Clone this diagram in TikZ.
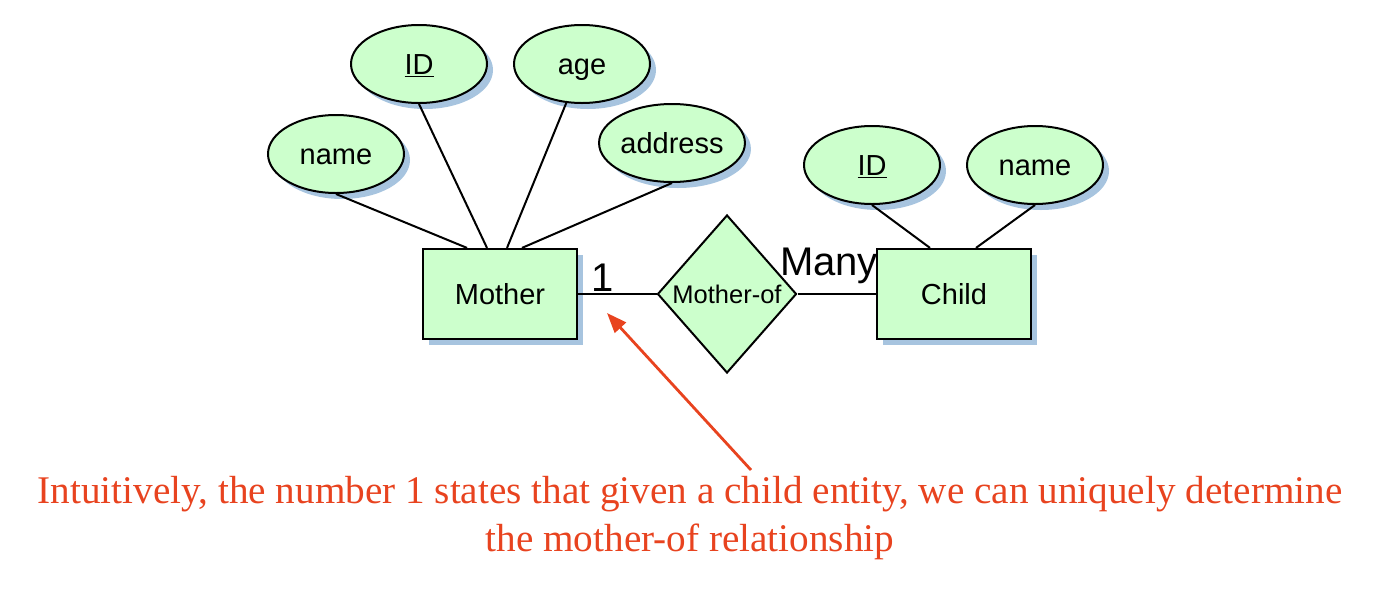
\documentclass[tikz,border=0pt]{standalone}
\usepackage{fontspec}
\setmainfont{Liberation Sans}
\newfontfamily\serifnote{Liberation Serif}
\usetikzlibrary{shapes.geometric,shadows,arrows.meta}
\definecolor{erfill}{HTML}{CCFFCC}
\definecolor{shadowblue}{HTML}{9DBEDC}
\definecolor{notered}{HTML}{E8431F}
\tikzset{
  shd/.style={drop shadow={shadow xshift=6pt,shadow yshift=-6pt,fill=shadowblue,opacity=0.9}},
  attr/.style={ellipse,draw=black,line width=2pt,fill=erfill,shd,minimum width=136pt,minimum height=78pt,inner sep=0pt,text height=21pt,text depth=0pt,font=\fontsize{29}{34}\selectfont},
  entity/.style={rectangle,draw=black,line width=2.2pt,fill=erfill,shd,minimum width=154pt,minimum height=90pt,inner sep=0pt,text height=21pt,text depth=0pt,font=\fontsize{29}{34}\selectfont},
  rel/.style={diamond,draw=black,line width=2pt,fill=erfill,minimum width=139pt,minimum height=158pt,inner sep=0pt,font=\fontsize{25.5}{30}\selectfont},
  conn/.style={draw=black,line width=2pt},
  card/.style={anchor=base,inner sep=0pt,font=\fontsize{40}{46}\selectfont},
  noteline/.style={draw=notered,line width=2.8pt,-{Triangle[length=20pt,width=15pt]}},
  note/.style={text=notered,align=center,inner sep=0pt,font=\serifnote\fontsize{39.2}{48}\selectfont}
}
\begin{document}
\begin{tikzpicture}[x=1pt,y=-1pt]
\useasboundingbox (0,0) rectangle (1400,590);
% entities and relationship
\node[entity] (mother) at (500,294) {Mother};
\node[entity] (child) at (954,294) {Child};
\node[rel] (rel) at (727,294) {Mother-of};
% attributes
\node[attr] (mname) at (336,154) {name};
\node[attr] (mid) at (419,64) {\underline{ID}};
\node[attr] (mage) at (582,64) {age};
\node[attr] (maddr) at (672,143) {address};
\node[attr] (cid) at (872,165) {\underline{ID}};
\node[attr] (cname) at (1035,165) {name};
% attribute connectors
\draw[conn] (mname.south) -- ([xshift=-33pt]mother.north);
\draw[conn] (mid.south) -- ([xshift=-13pt]mother.north);
\draw[conn] (mage.248) -- ([xshift=7pt]mother.north);
\draw[conn] (maddr.south) -- ([xshift=22pt]mother.north);
\draw[conn] (cid.south) -- ([xshift=-24pt]child.north);
\draw[conn] (cname.south) -- ([xshift=22pt]child.north);
% relationship connectors
\draw[conn] (mother.east) -- (rel.west);
\draw[conn] (rel.east) -- (child.west);
% cardinalities
\node[card] (one) at (603,291) {1};
\node[card] (many) at (829,275) {Many};
% note
\node[note] (notetext) at (690,518) {Intuitively, the number 1 states that given a child entity, we can uniquely determine\\the mother-of relationship};
\coordinate (arrtail) at (751,470);
\coordinate (arrtip) at (607,313);
\draw[noteline] (arrtail) -- (arrtip);
\end{tikzpicture}
\end{document}
